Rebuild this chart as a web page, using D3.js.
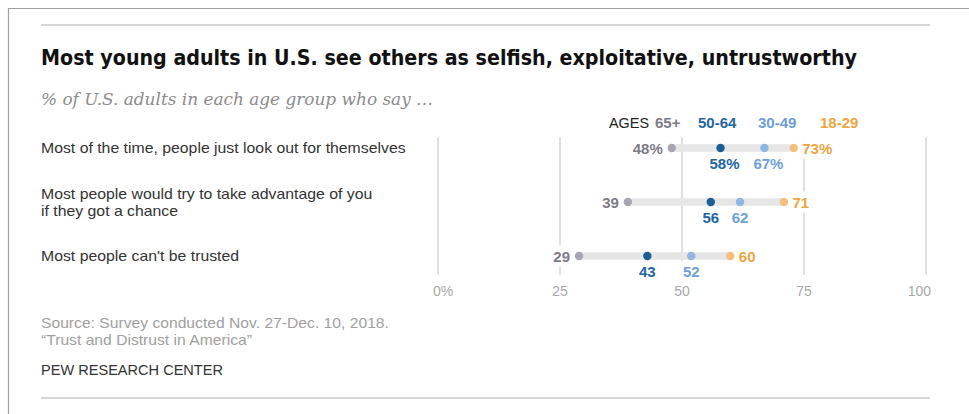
<!DOCTYPE html>
<html><head><meta charset="utf-8">
<script src="https://cdn.jsdelivr.net/npm/d3@7"></script>
<style>
html,body{margin:0;padding:0;background:#fff;}
svg{display:block;}
text{font-family:"Liberation Sans",Arial,sans-serif;}
</style></head>
<body>
<svg id="chart" width="969" height="414"></svg>
<script>
// ---- data ----
const questions = [
  ["Most of the time, people just look out for themselves"],
  ["Most people would try to take advantage of you", "if they got a chance"],
  ["Most people can't be trusted"]
];
const ageGroups = ["65+", "50-64", "30-49", "18-29"];
const age65plus = [48, 39, 29];
const age50to64 = [58, 56, 43];
const age30to49 = [67, 62, 52];
const age18to29 = [73, 71, 60];
const tickValues = [0, 25, 50, 75, 100];
const tickLabels = ["0%", "25", "50", "75", "100"];

const title = "Most young adults in U.S. see others as selfish, exploitative, untrustworthy";
const subtitle = "% of U.S. adults in each age group who say \u2026";
const source1 = "Source: Survey conducted Nov. 27-Dec. 10, 2018.";
const source2 = "\u201cTrust and Distrust in America\u201d";
const credit = "PEW RESEARCH CENTER";

// ---- styles ----
const dotColors = ["#a8a5b0", "#1b5e91", "#8eb7e3", "#f3c17d"];
const labelColors = ["#7e7a89", "#1e66a1", "#6ea0d6", "#eda540"];

const svg = d3.select("#chart");

// stretch helper: widen text horizontally by a factor
function stretch(sel, f) {
  sel.each(function () {
    const len = this.getComputedTextLength();
    d3.select(this).attr("textLength", len * f).attr("lengthAdjust", "spacingAndGlyphs");
  });
}

// frame
svg.append("line").attr("x1", 8).attr("x2", 969).attr("y1", 8.5).attr("y2", 8.5).attr("stroke", "#a0a0a0").attr("stroke-width", 1.2);
svg.append("line").attr("x1", 8.5).attr("x2", 8.5).attr("y1", 8).attr("y2", 414).attr("stroke", "#a0a0a0").attr("stroke-width", 1.2);
svg.append("line").attr("x1", 41).attr("x2", 930).attr("y1", 25).attr("y2", 25).attr("stroke", "#d6d6d6").attr("stroke-width", 2);
svg.append("line").attr("x1", 41).attr("x2", 930).attr("y1", 398).attr("y2", 398).attr("stroke", "#d6d6d6").attr("stroke-width", 2);

// title
svg.append("text").attr("x", 41).attr("y", 65)
  .style("font-family", '"Liberation Sans Narrow","DejaVu Sans Condensed","Liberation Sans",sans-serif')
  .style("font-weight", "bold").style("font-size", "21px").attr("fill", "#111")
  .attr("textLength", 816).attr("lengthAdjust", "spacingAndGlyphs")
  .text(title);

svg.append("text").attr("x", 41).attr("y", 105)
  .style("font-family", '"DejaVu Serif Condensed","DejaVu Serif","Liberation Serif",serif')
  .style("font-style", "italic").style("font-size", "16px").attr("fill", "#8c8c8c")
  .attr("textLength", 392).attr("lengthAdjust", "spacingAndGlyphs")
  .text(subtitle);

// scales
const x = d3.scaleLinear().domain([0, 100]).range([437.5, 925.5]);
const y = d3.scalePoint().domain(d3.range(questions.length)).range([148, 256]);

// axis + gridlines
const axis = d3.axisBottom(x).tickValues(tickValues)
  .tickFormat((d, i) => tickLabels[i]).tickSize(-138).tickPadding(11);
const gAxis = svg.append("g").attr("transform", "translate(0,275)").call(axis);
gAxis.select(".domain").remove();
gAxis.selectAll(".tick line").attr("stroke", "#cfcfcf").attr("stroke-width", 1.3);
gAxis.selectAll(".tick text").attr("fill", "#a8a8a8").style("font-size", "14px")
  .style("font-family", '"Liberation Sans",Arial,sans-serif');
gAxis.selectAll(".tick text").filter((d) => d === 0).attr("text-anchor", "start").attr("dx", -5);
gAxis.selectAll(".tick text").filter((d) => d === 100).attr("text-anchor", "end").attr("dx", 5);

// row labels
questions.forEach((lines, i) => {
  const n = lines.length;
  lines.forEach((ln, j) => {
    const t = svg.append("text").attr("x", 41)
      .attr("y", y(i) + 5 + (j - (n - 1) / 2) * 17)
      .attr("fill", "#333").style("font-size", "14.5px")
      .text(ln);
    stretch(t, 1.09);
  });
});

// value label layers
const bgLayer = svg.append("g");
const barLayer = svg.append("g");
const dotLayer = svg.append("g");
const labLayer = svg.append("g");

const series = [age65plus, age50to64, age30to49, age18to29];

questions.forEach((q, i) => {
  const vals = series.map(s => s[i]);
  const lo = d3.min(vals), hi = d3.max(vals);
  barLayer.append("line")
    .attr("x1", x(lo)).attr("x2", x(hi)).attr("y1", y(i)).attr("y2", y(i))
    .attr("stroke", "#e6e6e6").attr("stroke-width", 7.5);
  series.forEach((s, k) => {
    dotLayer.append("circle").attr("cx", x(s[i])).attr("cy", y(i)).attr("r", 4.2)
      .attr("fill", dotColors[k]);
    const pct = i === 0 ? "%" : "";
    let tx, ty, anchor, dx = 0;
    if (k === 0) { tx = x(s[i]) - 9; ty = y(i) + 5.5; anchor = "end"; }
    else if (k === 3) { tx = x(s[i]) + 8.5; ty = y(i) + 5.5; anchor = "start"; }
    else { tx = x(s[i]); ty = y(i) + 21; anchor = "middle"; dx = pct ? 4 : 0; }
    const t = labLayer.append("text").attr("x", tx + dx).attr("y", ty)
      .attr("text-anchor", anchor).attr("fill", labelColors[k])
      .style("font-weight", "bold").style("font-size", "15px")
      .text(s[i] + pct);
    const bb = t.node().getBBox();
    bgLayer.append("rect").attr("x", bb.x - 2).attr("y", bb.y - 2)
      .attr("width", bb.width + 4).attr("height", bb.height + 4).attr("fill", "#fff");
  });
});

// legend
const legend = svg.append("g").style("font-size", "15px");
legend.append("text").attr("x", 609).attr("y", 128).attr("fill", "#222")
  .style("font-size", "15px")
  .attr("textLength", 40).attr("lengthAdjust", "spacingAndGlyphs").text("AGES");
const legX = [655, 698, 758, 820];
ageGroups.forEach((a, k) => {
  legend.append("text").attr("x", legX[k]).attr("y", 128).attr("fill", labelColors[k])
    .style("font-weight", "bold").text(a);
});

// footer
const f1 = svg.append("text").attr("x", 41).attr("y", 328).attr("fill", "#a0a0a0").style("font-size", "14.5px").text(source1);
const f2 = svg.append("text").attr("x", 41).attr("y", 345).attr("fill", "#a0a0a0").style("font-size", "14.5px").text(source2);
const f3 = svg.append("text").attr("x", 41).attr("y", 375).attr("fill", "#333").style("font-size", "14.5px").text(credit);
stretch(f1, 1.08); stretch(f2, 1.08);
f3.attr("textLength", 182).attr("lengthAdjust", "spacingAndGlyphs");
</script>
</body></html>
